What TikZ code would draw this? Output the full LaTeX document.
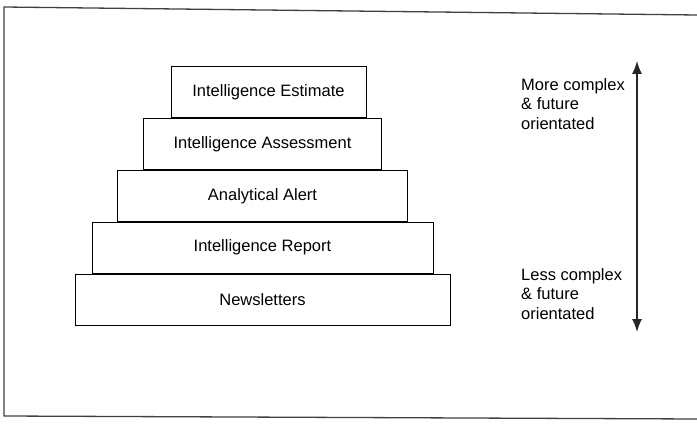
\documentclass[tikz,border=0pt]{standalone}
\usepackage{fontspec}
\setmainfont{Liberation Sans}
\usetikzlibrary{positioning,arrows,arrows.meta}
\tikzstyle{plainnode}=[draw=none,fill=none,inner sep=0pt,align=left]
\tikzstyle{tiernode}=[draw, rectangle, line width=0.8pt, minimum height=51pt, inner sep=0pt]
\newcommand{\tiertext}{\fontsize{16.5}{19.5}\selectfont}

\begin{document}
\begin{tikzpicture}[x=1pt,y=-1pt,font=\tiertext]
\useasboundingbox (0,0) rectangle (697,433);
% frame around the figure
\draw[line width=1.3pt, black!75] (697,15) -- (4,7) -- (4,416) -- (697,419);
% the stacked tiers, bottom to top
\node[tiernode, minimum width=375pt] (news) at (262.5,299.5) {Newsletters};
\node[tiernode, minimum width=341pt, above=0pt of news] (report) {Intelligence Report};
\node[tiernode, minimum width=290pt, above=0pt of report] (alert) {Analytical Alert};
\node[tiernode, minimum width=238pt, above=0pt of alert] (assess) {Intelligence Assessment};
\node[tiernode, minimum width=195pt, above=0pt of assess, xshift=6pt] (estimate) {Intelligence Estimate};
% complexity scale
\coordinate (top) at (637,61);
\coordinate (bottom) at (637,332);
\draw (top) edge[{Latex[length=13pt,width=10pt]}-{Latex[length=13pt,width=10pt]}, line width=1.4pt, black!85] (bottom);
\node[plainnode, anchor=north west] (morelbl) at (521,78) {More complex\\\& future\\orientated};
\node[plainnode, anchor=north west] (lesslbl) at (521,268) {Less complex\\\& future\\orientated};
\end{tikzpicture}
\end{document}
